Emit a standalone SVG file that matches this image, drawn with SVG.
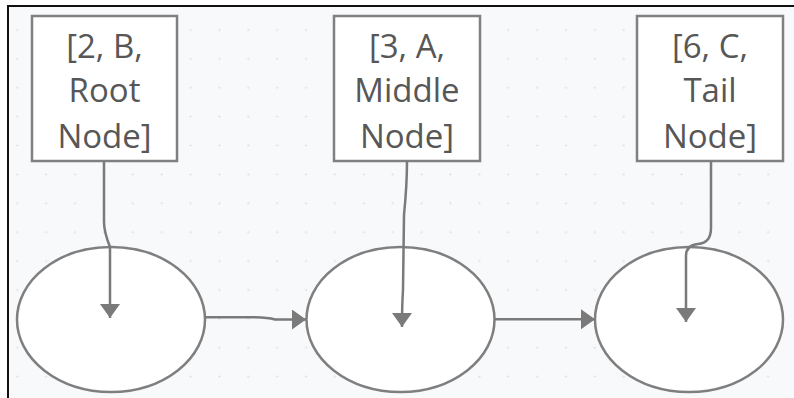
<svg xmlns="http://www.w3.org/2000/svg" width="794" height="398" viewBox="0 0 794 398">
  <defs>
    <pattern id="dots" patternUnits="userSpaceOnUse" x="2.86" y="15.56" width="28.88" height="28.88">
      <circle cx="14.44" cy="14.44" r="1.1" fill="#dcdee2"/>
    </pattern>
    <marker id="arrow" viewBox="0 0 14 20" refX="14" refY="10" markerWidth="14" markerHeight="20" markerUnits="userSpaceOnUse" orient="auto">
      <path d="M0,0 L14,10 L0,20 Z" fill="#7a7a7a"/>
    </marker>
    <style>
      .box { fill: #ffffff; stroke: #808080; stroke-width: 2.5; }
      .circ { fill: #ffffff; stroke: #7f7f7f; stroke-width: 2.5; }
      .label { font-family: "Open Sans", "Noto Sans", sans-serif; font-size: 33px; fill: #575757; text-anchor: middle; }
      .edge { fill: none; stroke: #7a7a7a; stroke-width: 2.5; marker-end: url(#arrow); }
    </style>
  </defs>

  <!-- canvas -->
  <rect x="0" y="0" width="794" height="398" fill="#ffffff"/>
  <rect x="9" y="7" width="785" height="391" fill="#f8f9fb"/>
  <rect x="9" y="7" width="785" height="391" fill="url(#dots)"/>
  <path d="M8,398 L8,6 L794,6" fill="none" stroke="#111111" stroke-width="2"/>

  <!-- list nodes -->
  <g id="node-root">
    <ellipse class="circ" cx="111" cy="319.5" rx="94" ry="72.5"/>
  </g>
  <g id="node-middle">
    <ellipse class="circ" cx="400.5" cy="319.5" rx="94" ry="72.5"/>
  </g>
  <g id="node-tail">
    <ellipse class="circ" cx="689" cy="319.5" rx="94" ry="72.5"/>
  </g>

  <!-- labels -->
  <g id="label-root">
    <rect class="box" x="32" y="16" width="145" height="145"/>
    <text class="label" x="104.5" y="58">[2, B,</text>
    <text class="label" x="104.5" y="102">Root</text>
    <text class="label" x="104.5" y="148">Node]</text>
  </g>
  <g id="label-middle">
    <rect class="box" x="334" y="16" width="146" height="145"/>
    <text class="label" x="407" y="58">[3, A,</text>
    <text class="label" x="407" y="102">Middle</text>
    <text class="label" x="407" y="148">Node]</text>
  </g>
  <g id="label-tail">
    <rect class="box" x="637" y="16" width="146" height="145"/>
    <text class="label" x="710" y="58">[6, C,</text>
    <text class="label" x="710" y="102">Tail</text>
    <text class="label" x="710" y="148">Node]</text>
  </g>

  <!-- connectors -->
  <g id="connectors">
    <path class="edge" d="M104,161 L104,222 Q104,232 110,247 L110,318"/>
    <path class="edge" d="M407,161 Q407,185 404,215 L403,290 Q402,305 402,327"/>
    <path class="edge" d="M711,161 L711,228 Q711,243 698,244 Q686,245 686,256 L686,322"/>
    <path class="edge" d="M205,317.3 L255,317.3 Q268,317.5 275,319.5 L306,319.5"/>
    <path class="edge" d="M494,319.3 L595,319.3"/>
  </g>
</svg>
